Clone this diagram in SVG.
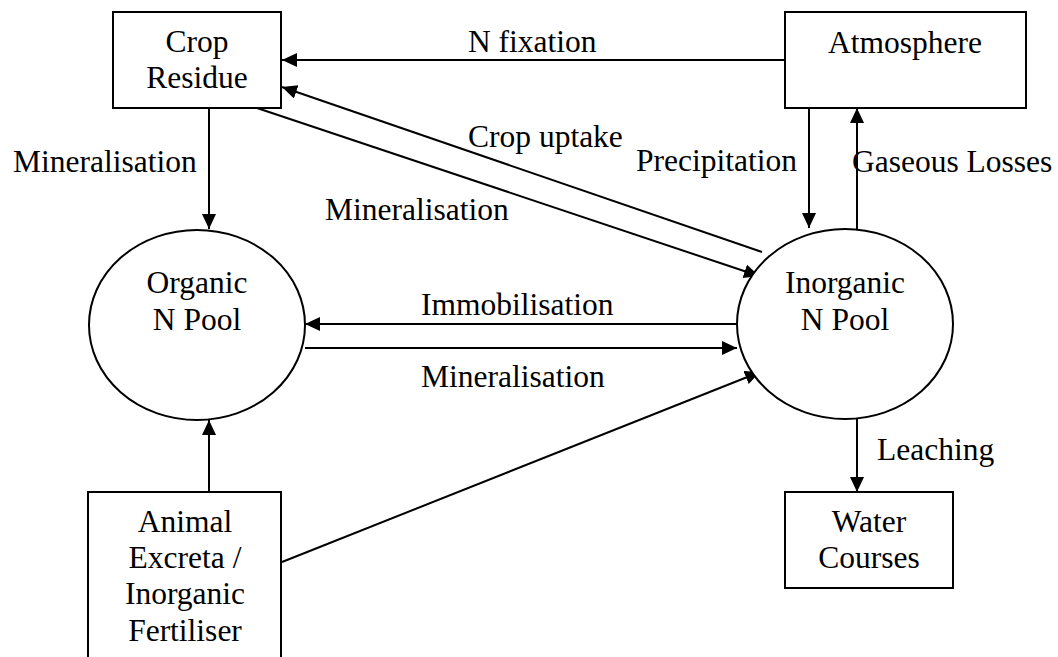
<svg xmlns="http://www.w3.org/2000/svg" width="1058" height="657" viewBox="0 0 1058 657">
<style>
.box{fill:#fff;stroke:#000;stroke-width:2}
.ln{fill:none;stroke:#000;stroke-width:2}
text{font-family:"Liberation Serif","Times New Roman",serif;font-size:31.5px;fill:#000}
.c{text-anchor:middle}
</style>
<defs>
<marker id="ah" markerUnits="userSpaceOnUse" markerWidth="16" markerHeight="16" refX="15" refY="7" orient="auto">
<path d="M0,0 L15,7 L0,14 z" fill="#000"/>
</marker>
</defs>
<rect width="1058" height="657" fill="#fff"/>
<g id="connectors">
<line class="ln" x1="785" y1="60" x2="282" y2="60" marker-end="url(#ah)"/>
<line class="ln" x1="762" y1="252" x2="282" y2="87" marker-end="url(#ah)"/>
<line class="ln" x1="257" y1="108" x2="759" y2="276" marker-end="url(#ah)"/>
<line class="ln" x1="209" y1="108" x2="209" y2="229" marker-end="url(#ah)"/>
<line class="ln" x1="809" y1="108" x2="809" y2="228" marker-end="url(#ah)"/>
<line class="ln" x1="857" y1="229" x2="857" y2="108" marker-end="url(#ah)"/>
<line class="ln" x1="737" y1="324" x2="305" y2="324" marker-end="url(#ah)"/>
<line class="ln" x1="305" y1="348" x2="737" y2="348" marker-end="url(#ah)"/>
<line class="ln" x1="209" y1="492" x2="209" y2="420" marker-end="url(#ah)"/>
<line class="ln" x1="282" y1="562" x2="760" y2="372" marker-end="url(#ah)"/>
<line class="ln" x1="857" y1="419" x2="857" y2="492" marker-end="url(#ah)"/>
<text x="468" y="52">N fixation</text>
<text x="468" y="147">Crop uptake</text>
<text x="325" y="220">Mineralisation</text>
<text x="13" y="172">Mineralisation</text>
<text x="636" y="171">Precipitation</text>
<text x="852" y="172">Gaseous Losses</text>
<text x="421" y="315">Immobilisation</text>
<text x="421" y="387">Mineralisation</text>
<text x="877" y="460">Leaching</text>
</g>
<g id="crop-residue">
<rect class="box" x="113" y="12" width="168" height="96"/>
<text class="c" x="197" y="52">Crop</text>
<text class="c" x="197" y="88">Residue</text>
</g>
<g id="atmosphere">
<rect class="box" x="785" y="12" width="241" height="96"/>
<text class="c" x="905" y="53">Atmosphere</text>
</g>
<g id="organic-n-pool">
<ellipse class="box" cx="197" cy="325" rx="108" ry="95"/>
<text class="c" x="197" y="293">Organic</text>
<text class="c" x="197" y="330">N Pool</text>
</g>
<g id="inorganic-n-pool">
<ellipse class="box" cx="845" cy="324" rx="108" ry="95"/>
<text class="c" x="845" y="293">Inorganic</text>
<text class="c" x="845" y="330">N Pool</text>
</g>
<g id="water-courses">
<rect class="box" x="785" y="492" width="168" height="96"/>
<text class="c" x="869" y="532">Water</text>
<text class="c" x="869" y="568">Courses</text>
</g>
<g id="animal-excreta">
<rect class="box" x="88" y="492" width="193" height="200"/>
<text class="c" x="185" y="532">Animal</text>
<text class="c" x="185" y="568">Excreta /</text>
<text class="c" x="185" y="604">Inorganic</text>
<text class="c" x="185" y="641">Fertiliser</text>
</g>
</svg>
